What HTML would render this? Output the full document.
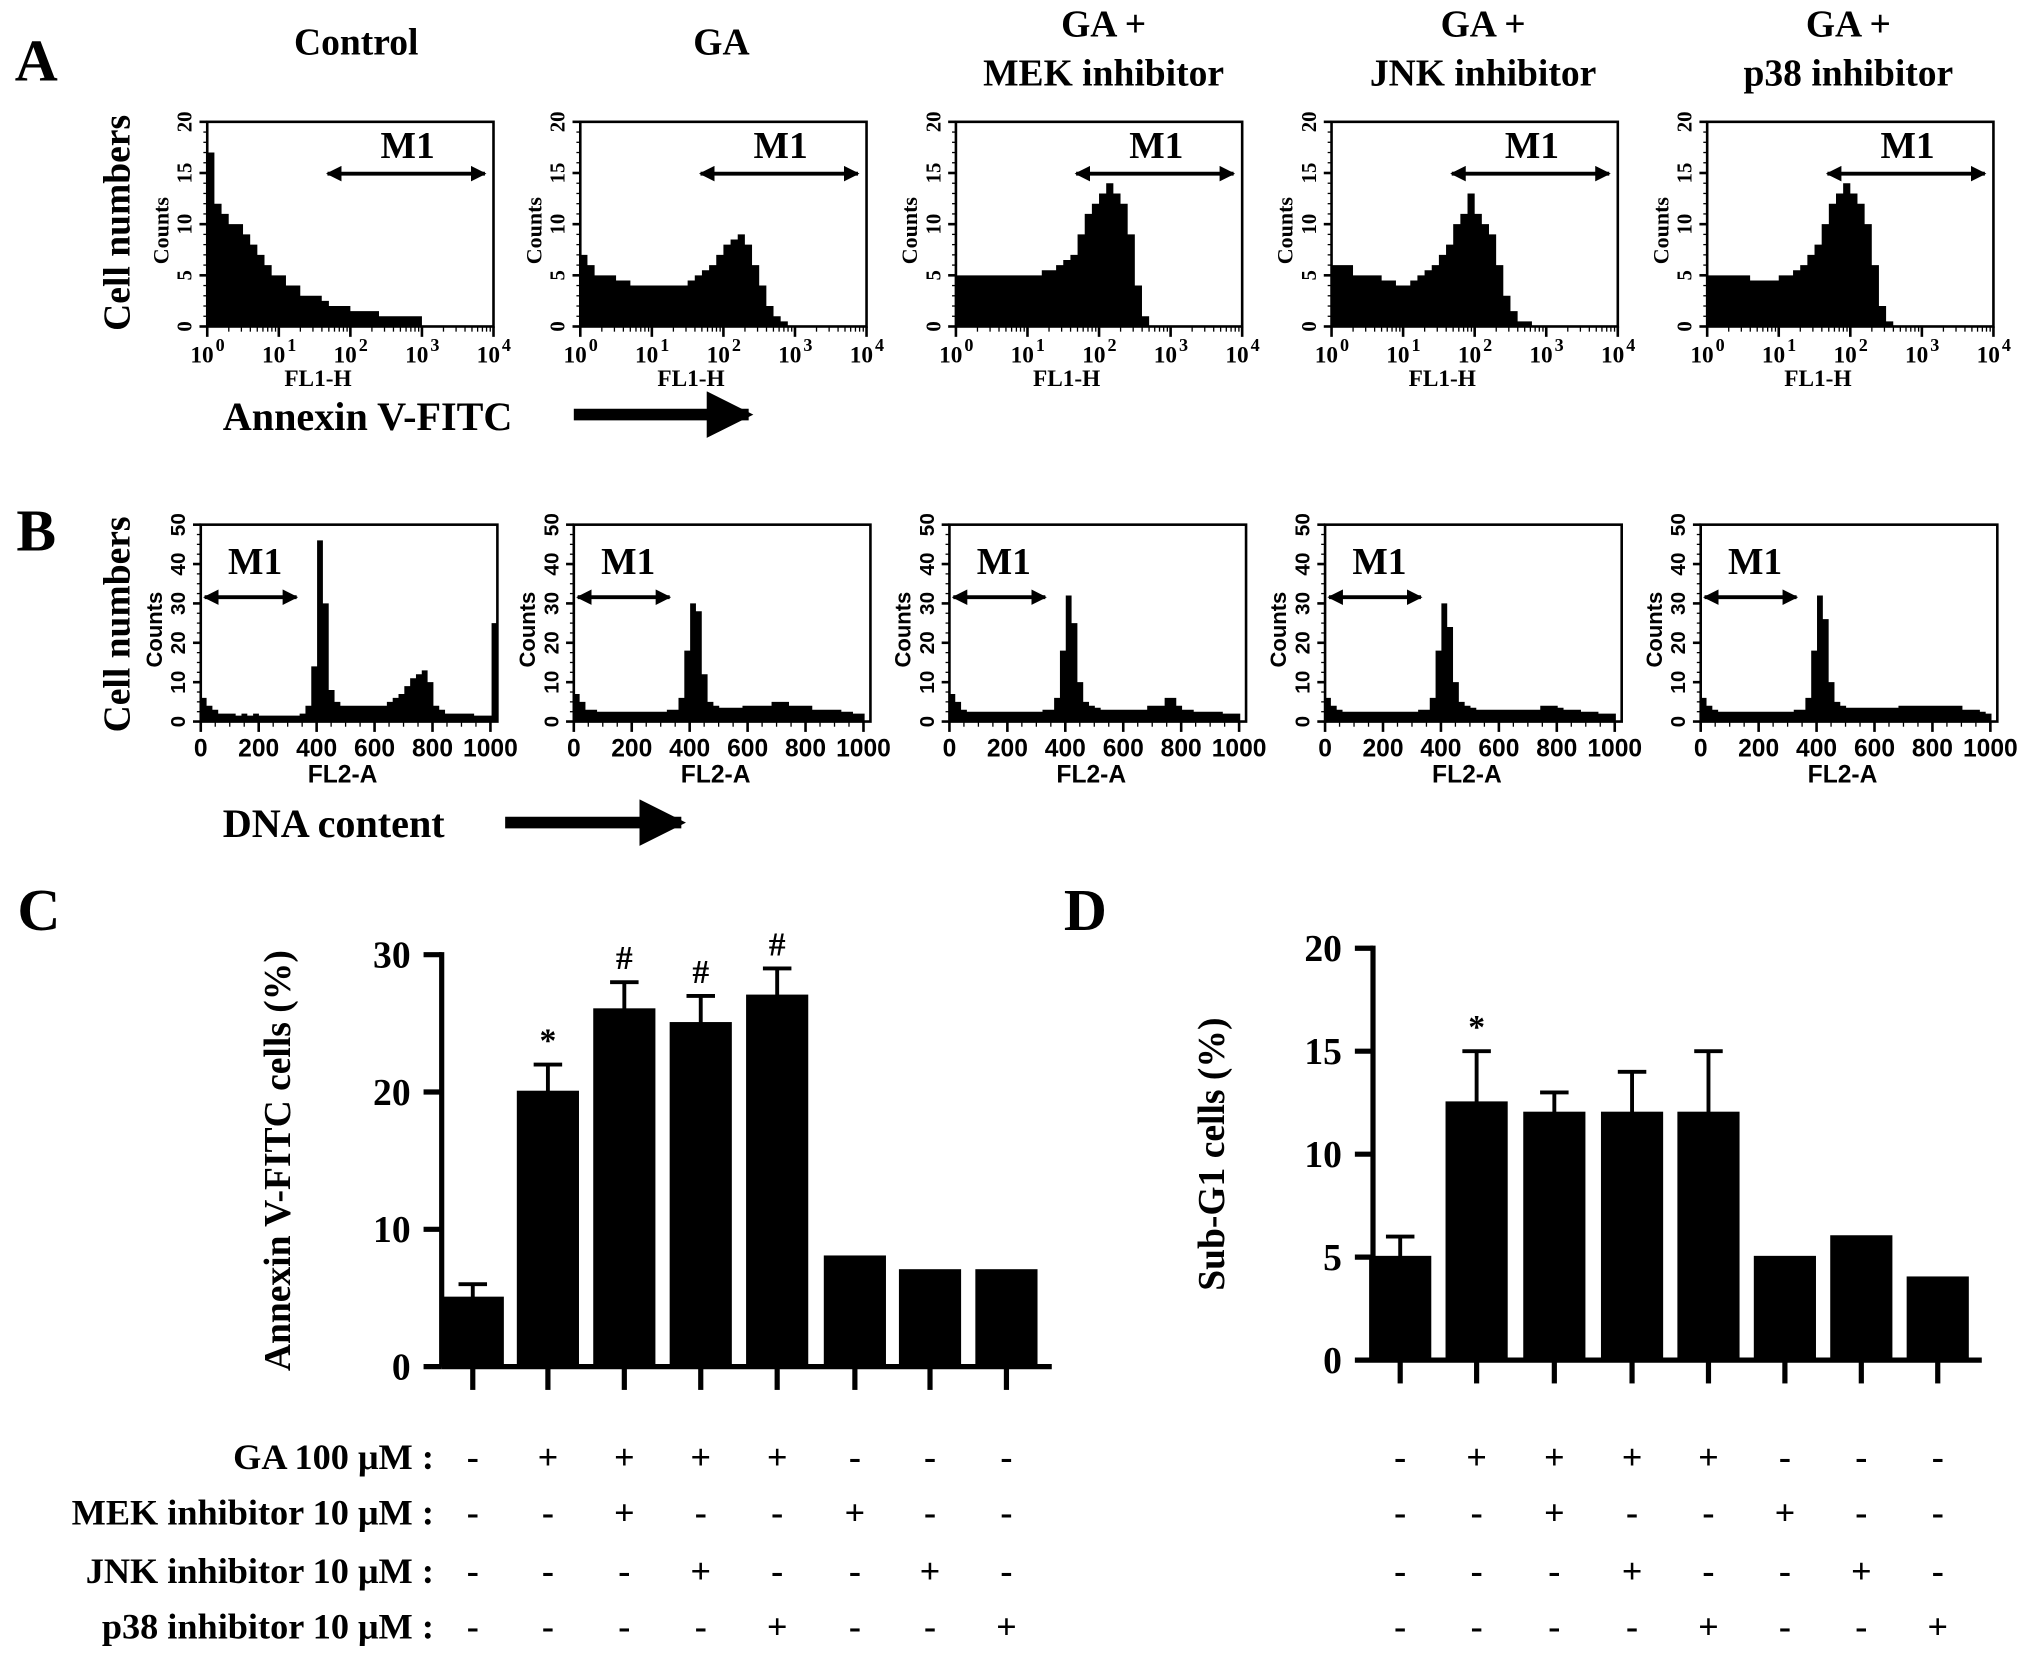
<!DOCTYPE html>
<html><head><meta charset="utf-8"><style>
html,body{margin:0;padding:0;background:#fff}
svg{display:block}
text{font-family:"Liberation Serif",serif;font-weight:bold;fill:#000}
.sans{font-family:"Liberation Sans",sans-serif}
</style></head><body>
<svg id="fig" width="2031" height="1662" viewBox="0 0 1568 1283" xmlns="http://www.w3.org/2000/svg">
<defs><marker id="ah" viewBox="0 0 10 10" refX="9" refY="5" markerWidth="4" markerHeight="4" orient="auto-start-reverse"><path d="M0,0 L10,5 L0,10z" fill="#000"/></marker></defs>
<g id="root"></g>
</svg>
<script>
const hA_titles=[["Control"],["GA"],["GA +","MEK inhibitor"],["GA +","JNK inhibitor"],["GA +","p38 inhibitor"]];
const hA_ctrl=[17,12,11,10,10,9,8,7,6,5,5,4,4,3,3,3,2.5,2,2,2,1.5,1.5,1.5,1.5,1,1,1,1,1,1,0,0,0,0,0,0,0,0,0,0];
const hA_ga=[7,6,5,5,5,4.5,4.5,4,4,4,4,4,4,4,4,4.5,5,5.5,6,7,8,8.5,9,8,6,4,2,1,0.5,0,0,0,0,0,0,0,0,0,0,0];
const hA_mek=[5,5,5,5,5,5,5,5,5,5,5,5,5.5,5.5,6,6.5,7,9,11,12,13,14,13,12,9,4,1,0,0,0,0,0,0,0,0,0,0,0,0,0];
const hA_jnk=[6,6,6,5,5,5,5,4.5,4.5,4,4,4.5,5,5.5,6,7,8,10,11,13,11,10,9,6,3,1.5,0.5,0.5,0,0,0,0,0,0,0,0,0,0,0,0];
const hA_p38=[5,5,5,5,5,5,4.5,4.5,4.5,4.5,5,5,5.5,6,7,8,10,12,13,14,13,12,10,6,2,0.5,0,0,0,0,0,0,0,0,0,0,0,0,0,0];
const hB_ctrl=[6,4,3,2,2,2,1.5,2,1.5,2,1.5,1.5,1.5,1.5,1.5,1.5,1.5,2,4,14,46,30,8,5,4,4,4,4,4,4,4,4,5,6,7,9,11,12,13,10,4,3,2,2,2,2,2,1.5,1.5,1.5,25];
const hB_ga=[7,5,3,3,2.5,2.5,2.5,2.5,2.5,2.5,2.5,2.5,2.5,2.5,2.5,2.5,3,3,6,18,30,28,12,5,4,3.5,3.5,3.5,3.5,4,4,4,4,4,5,5,5,4,4,4,4,3,3,3,3,3,2.5,2.5,2,2,0];
const hB_mek=[7,5,3,2.5,2.5,2.5,2.5,2.5,2.5,2.5,2.5,2.5,2.5,2.5,2.5,2.5,3,3,6,18,32,25,10,5,4,3.5,3,3,3,3,3,3,3,3,4,4,4,6,6,4,3,3,2.5,2.5,2.5,2.5,2.5,2,2,2,0];
const hB_jnk=[6,4,3,2.5,2.5,2.5,2.5,2.5,2.5,2.5,2.5,2.5,2.5,2.5,2.5,2.5,3,3,6,18,30,24,10,5,4,3.5,3,3,3,3,3,3,3,3,3,3,3,4,4,4,3.5,3,3,3,2.5,2.5,2.5,2,2,2,0];
const hB_p38=[6,4,3,2.5,2.5,2.5,2.5,2.5,2.5,2.5,2.5,2.5,2.5,2.5,2.5,2.5,3,3,6,18,32,26,10,5,4,3.5,3.5,3.5,3.5,3.5,3.5,3.5,3.5,3.5,4,4,4,4,4,4,4,4,4,4,4,3,3,3,2.5,2,0];
const histA=[hA_ctrl,hA_ga,hA_mek,hA_jnk,hA_p38];
const histB=[hB_ctrl,hB_ga,hB_mek,hB_jnk,hB_p38];
const ticksA=[0,5,10,15,20];
const ticksB=[0,10,20,30,40,50];
const xTicksB=[0,200,400,600,800,1000];
const C_values=[5,20,26,25,27,8,7,7];
const C_errors=[1,2,2,2,2,0,0,0];
const C_marks=["","*","#","#","#","","",""];
const D_values=[5,12.5,12,12,12,5,6,4];
const D_errors=[1,2.5,1,2,3,0,0,0];
const D_marks=["","*","","","","","",""];
const C_ticks=[0,10,20,30];
const D_ticks=[0,5,10,15,20];
const rowLabels=["GA 100 \u03bcM :","MEK inhibitor 10 \u03bcM :","JNK inhibitor 10 \u03bcM :","p38 inhibitor 10 \u03bcM :"];
const rowSigns=[["-","+","+","+","+","-","-","-"],["-","-","+","-","-","+","-","-"],["-","-","-","+","-","-","+","-"],["-","-","-","-","+","-","-","+"]];

const NS="http://www.w3.org/2000/svg";
const root=document.getElementById('root');
function mk(tag,attrs,parent,txt){const e=document.createElementNS(NS,tag);for(const k in attrs)e.setAttribute(k,attrs[k]);if(txt!==undefined)e.textContent=txt;(parent||root).appendChild(e);return e;}
function T(x,y,s,size,opts){opts=opts||{};const e=mk('text',{x:x,y:y,'font-size':size,'text-anchor':opts.anchor||'middle'},opts.parent,s);if(opts.rot)e.setAttribute('transform','rotate(-90 '+x+' '+y+')');if(opts.cls)e.setAttribute('class',opts.cls);return e;}

[["A",28,62],["B",28,425],["C",30,718],["D",838,718]].forEach(l=>{const e=T(l[1],l[2],l[0],46);});

const ALeft=[160,448,738,1028,1318],BLeft=[155,443,733,1023,1313];
const titleX=[275,557,852,1145,1427];
hA_titles.forEach((t,i)=>{
  if(t.length==1){const e=T(titleX[i],42,t[0],29);}
  else{const e=T(titleX[i],28,t[0],29);
  const f=T(titleX[i],66,t[1],29);}
});

function hist(x0,y0,w,h,data,ymax,isB,idx){
  const g=mk('g',{});
  
  
  const n=data.length,bw=w/n;
  const ys=v=>y0+h-v/ymax*h;
  let d='M'+x0+','+(y0+h);
  data.forEach((v,j)=>{const xa=x0+j*bw;d+=' L'+xa+','+ys(v)+' L'+(xa+bw)+','+ys(v);});
  d+=' L'+(x0+w)+','+(y0+h)+'Z';
  const p=mk('path',{d:d,fill:'#000'},g);
  
  mk('rect',{x:x0,y:y0,width:w,height:h,fill:'none',stroke:'#000','stroke-width':2},g);
  const ticks=isB?ticksB:ticksA;
  ticks.forEach(t=>{const y=ys(t);mk('line',{x1:x0-6,y1:y,x2:x0,y2:y,stroke:'#000','stroke-width':2},g);
    T(x0-12,y,String(t),16,{rot:true,parent:g,cls:isB?'sans':''});});
  for(let k=0;k<=ymax;k+=ymax/20){const y=ys(k);mk('line',{x1:x0-3,y1:y,x2:x0,y2:y,stroke:'#000','stroke-width':1},g);}
  T(x0-30,y0+h/2+5,'Counts',17,{rot:true,parent:g,cls:isB?'sans':''});
  if(!isB){
    for(let k=0;k<=4;k++){const x=x0+k*w/4;mk('line',{x1:x,y1:y0+h,x2:x,y2:y0+h+8,stroke:'#000','stroke-width':2},g);
      T(x-4,y0+h+28,'10',18,{parent:g});T(x+10,y0+h+19,String(k),14,{parent:g});}
    for(let k=0;k<4;k++)for(let m=2;m<10;m++){const x=x0+(k+Math.log10(m))*w/4;mk('line',{x1:x,y1:y0+h,x2:x,y2:y0+h+4,stroke:'#000','stroke-width':1},g);}
    T(x0+w/2-25,y0+h+46,'FL1-H',18,{parent:g});
    const yA=y0+40;mk('line',{x1:x0+w*0.42,y1:yA,x2:x0+w*0.97,y2:yA,stroke:'#000','stroke-width':3,'marker-start':'url(#ah)','marker-end':'url(#ah)'},g);
    T(x0+w*0.7,y0+28,'M1',29,{parent:g});
  }else{
    xTicksB.forEach(t=>{const x=x0+t/1024*w;mk('line',{x1:x,y1:y0+h,x2:x,y2:y0+h+8,stroke:'#000','stroke-width':2},g);
      T(x,y0+h+27,String(t),19,{parent:g,cls:'sans'});});
    for(let t=0;t<=1000;t+=50){const x=x0+t/1024*w;mk('line',{x1:x,y1:y0+h,x2:x,y2:y0+h+4,stroke:'#000','stroke-width':1},g);}
    T(x0+w/2-5,y0+h+47,'FL2-A',19,{parent:g,cls:'sans'});
    const yA=y0+56;mk('line',{x1:x0+3,y1:yA,x2:x0+74,y2:yA,stroke:'#000','stroke-width':3,'marker-start':'url(#ah)','marker-end':'url(#ah)'},g);
    T(x0+42,y0+38,'M1',29,{parent:g});
  }
}
histA.forEach((d,i)=>hist(ALeft[i],94,221,158,d,20,false,i));
histB.forEach((d,i)=>hist(BLeft[i],405,229,152,d,50,true,i));

let e;
e=T(100,172,'Cell numbers',29,{rot:true});
e=T(100,482,'Cell numbers',29,{rot:true});
e=T(172,332,'Annexin V-FITC',31,{anchor:'start'});
e=T(172,646,'DNA content',31,{anchor:'start'});
e=mk('line',{x1:443,y1:320,x2:578,y2:320,stroke:'#000','stroke-width':9,'marker-end':'url(#ah)'});
e=mk('line',{x1:390,y1:635,x2:526,y2:635,stroke:'#000','stroke-width':9,'marker-end':'url(#ah)'});

function bars(ax,yTop,yBot,ymax,ticks,values,errs,marks,centers,right,label,labX,name){
  const g=mk('g',{});
  
  
  const ys=v=>yBot-v/ymax*(yBot-yTop);
  mk('line',{x1:ax,y1:yTop-2,x2:ax,y2:yBot,stroke:'#000','stroke-width':4},g);
  mk('line',{x1:ax,y1:yBot,x2:right,y2:yBot,stroke:'#000','stroke-width':4},g);
  ticks.forEach(t=>{const y=ys(t);mk('line',{x1:ax-14,y1:y,x2:ax,y2:y,stroke:'#000','stroke-width':4},g);T(ax-24,y+10,String(t),29,{anchor:'end',parent:g});});
  values.forEach((v,i)=>{const c=centers[i],bw=46;
    if(errs[i]>0){mk('line',{x1:c,y1:ys(v),x2:c,y2:ys(v+errs[i]),stroke:'#000','stroke-width':3},g);
      mk('line',{x1:c-11,y1:ys(v+errs[i]),x2:c+11,y2:ys(v+errs[i]),stroke:'#000','stroke-width':3},g);}
    const r=mk('rect',{x:c-bw/2,y:ys(v),width:bw,height:yBot-ys(v),fill:'#000',stroke:'#000','stroke-width':2},g);
    
    mk('line',{x1:c,y1:yBot,x2:c,y2:yBot+18,stroke:'#000','stroke-width':4},g);
    if(marks[i])T(c,ys(v+errs[i])-10,marks[i],26,{parent:g}).setAttribute('font-weight','normal');
  });
  T(labX,(yTop+yBot)/2,label,29,{rot:true,parent:g});
}
const cC=[365,423,482,541,600,660,718,777];
const cD=[1081,1140,1200,1260,1319,1378,1437,1496];
bars(341,737,1055,30,C_ticks,C_values,C_errors,C_marks,cC,812,'Annexin V-FITC cells (%)',224,'bar-chart-c');
bars(1060,732,1050,20,D_ticks,D_values,D_errors,D_marks,cD,1530,'Sub-G1 cells (%)',945,'bar-chart-d');

const rowY=[1134,1177,1222,1265];
rowLabels.forEach((l,r)=>{
  e=T(335,rowY[r],l,28,{anchor:'end'});
  rowSigns[r].forEach((s,i)=>{[cC[i],cD[i]].forEach(x=>{const t=T(x,rowY[r],s,28);t.setAttribute('font-weight','normal');});});
});
</script>
</body></html>
